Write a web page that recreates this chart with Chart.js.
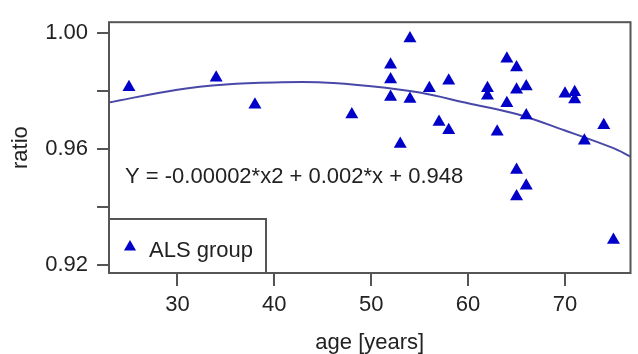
<!DOCTYPE html>
<html>
<head>
<meta charset="utf-8">
<script src="https://cdn.jsdelivr.net/npm/chart.js@4.4.1/dist/chart.umd.min.js"></script>
<style>
  html, body { margin: 0; padding: 0; background: #ffffff; }
  #wrap { width: 638px; height: 354px; }
</style>
</head>
<body>
<div id="wrap"><canvas id="c" width="638" height="354"></canvas></div>
<script>
// ---- data ----
const ages = [25, 34, 38, 48, 52, 52, 52, 53, 54, 54, 56, 57, 58, 58, 62, 62, 63, 64, 64, 65, 65, 65, 65, 66, 66, 66, 70, 71, 71, 72, 74, 75];
const ratios = [0.9812, 0.9845, 0.9752, 0.9718, 0.9890, 0.9839, 0.9779, 0.9616, 0.9981, 0.9772, 0.9809, 0.9692, 0.9835, 0.9664, 0.9809, 0.9783, 0.9659, 0.9911, 0.9757, 0.9881, 0.9804, 0.9527, 0.9435, 0.9815, 0.9715, 0.9472, 0.9790, 0.9795, 0.9770, 0.9628, 0.9681, 0.9285];
const fitAges = [22.94, 30, 35, 40, 45, 50, 55, 60, 65, 70, 75, 76.76];
const fitRatios = [0.9760, 0.9804, 0.9822, 0.9829, 0.9829, 0.9816, 0.9794, 0.9757, 0.9720, 0.9663, 0.9602, 0.9573];
const xTickValues = [30, 40, 50, 60, 70];
const yTickValues = [0.92, 0.94, 0.96, 0.98, 1.00];
const yTickLabels = ['0.92', '', '0.96', '', '1.00'];
const seriesName = 'ALS group';
const equationText = 'Y = -0.00002*x2 + 0.002*x + 0.948';
const xTitle = 'age [years]';
const yTitle = 'ratio';

const FONT = "'Liberation Sans', Arial, sans-serif";
const TEXT = '#222222';
const AXIS = '#555555';
const POINT = '#0000c8';

const scatterData = ages.map((a, i) => ({ x: a, y: ratios[i] }));
const fitData = fitAges.map((a, i) => ({ x: a, y: fitRatios[i] }));

const frameAndText = {
  id: 'frameAndText',
  afterDatasetsDraw(chart) {
    const { ctx, chartArea: a } = chart;
    ctx.save();
    // plot frame
    ctx.strokeStyle = AXIS;
    ctx.lineWidth = 2;
    ctx.strokeRect(a.left, a.top, a.right - a.left, a.bottom - a.top);
    // equation
    ctx.fillStyle = TEXT;
    ctx.font = '22px ' + FONT;
    ctx.textAlign = 'left';
    ctx.textBaseline = 'alphabetic';
    ctx.fillText(equationText, 125, 183);
    // legend box
    const lx = a.left, ly = 219, lw = 157, lh = a.bottom - 219;
    ctx.fillStyle = '#ffffff';
    ctx.fillRect(lx, ly, lw, lh);
    ctx.strokeStyle = AXIS;
    ctx.lineWidth = 2;
    ctx.strokeRect(lx, ly, lw, lh);
    // legend marker
    const cx = 130, cy = 247, r = 7;
    ctx.fillStyle = POINT;
    ctx.beginPath();
    ctx.moveTo(cx, cy - r);
    ctx.lineTo(cx + r * Math.sqrt(3) / 2, cy + r / 2);
    ctx.lineTo(cx - r * Math.sqrt(3) / 2, cy + r / 2);
    ctx.closePath();
    ctx.fill();
    ctx.fillStyle = TEXT;
    ctx.fillText(seriesName, 149, 257);
    ctx.restore();
  }
};

new Chart(document.getElementById('c'), {
  type: 'scatter',
  data: {
    datasets: [
      {
        label: seriesName,
        data: scatterData,
        pointStyle: 'triangle',
        pointRadius: 7.5,
        pointHoverRadius: 7.5,
        backgroundColor: POINT,
        borderColor: POINT,
        borderWidth: 0,
        order: 1
      },
      {
        label: 'fit',
        type: 'line',
        data: fitData,
        borderColor: '#4848a8',
        borderWidth: 2,
        pointRadius: 0,
        fill: false,
        tension: 0.35,
        order: 2
      }
    ]
  },
  options: {
    responsive: false,
    animation: false,
    devicePixelRatio: 1,
    layout: { padding: { top: 14, right: 1, left: 0, bottom: 0 } },
    plugins: {
      legend: { display: false },
      tooltip: { enabled: false }
    },
    scales: {
      x: {
        type: 'linear',
        min: 22.94,
        max: 76.76,
        afterFit(s) { s.height = 81; },
        afterBuildTicks(s) { s.ticks = xTickValues.map(v => ({ value: v })); },
        grid: { drawOnChartArea: false, drawTicks: true, tickLength: 13, color: AXIS, lineWidth: 2 },
        border: { display: false },
        ticks: {
          color: TEXT, padding: 6, maxRotation: 0, autoSkip: false,
          font: { family: FONT, size: 22, lineHeight: 1.2 },
          callback: v => String(v)
        },
        title: {
          display: true, text: xTitle, color: TEXT,
          font: { family: FONT, size: 22, lineHeight: 1 },
          padding: { top: 0, bottom: 0 }
        }
      },
      y: {
        type: 'linear',
        min: 0.9171,
        max: 1.0037,
        afterFit(s) { s.width = 109; },
        afterBuildTicks(s) { s.ticks = yTickValues.map(v => ({ value: v })); },
        grid: { drawOnChartArea: false, drawTicks: true, tickLength: 12, color: AXIS, lineWidth: 2 },
        border: { display: false },
        ticks: {
          color: TEXT, padding: 9, autoSkip: false,
          font: { family: FONT, size: 22, lineHeight: 1.2 },
          callback: (v) => {
            const i = yTickValues.findIndex(t => Math.abs(t - v) < 1e-9);
            return i >= 0 ? yTickLabels[i] : '';
          }
        },
        title: {
          display: true, text: yTitle, color: TEXT,
          font: { family: FONT, size: 22, lineHeight: 1 },
          padding: { top: 10, bottom: 0 }
        }
      }
    }
  },
  plugins: [frameAndText]
});
</script>
</body>
</html>
